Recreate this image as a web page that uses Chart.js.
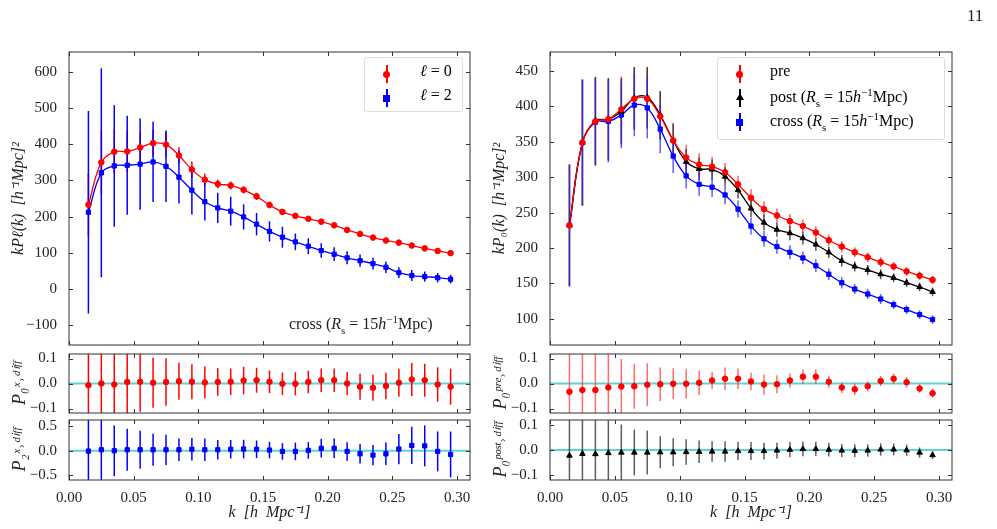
<!DOCTYPE html>
<html><head><meta charset="utf-8">
<script src="https://cdn.jsdelivr.net/npm/chart.js@4"></script>
<style>
body{margin:0;width:997px;height:529px;background:#fff;position:relative;overflow:hidden;font-family:"Liberation Serif",serif}
canvas{position:absolute;left:0;top:0}
.t{position:absolute;font-size:16px;color:#222;white-space:nowrap}
.leg{position:absolute;border:1px solid #ddd;border-radius:3px;background:rgba(255,255,255,0.8)}
.row{position:absolute;left:0;height:22px;font-size:16px;white-space:nowrap}
.m{position:absolute}
</style></head><body>
<div id="wrap"></div>
<script>
const K=[0.015,0.025,0.035,0.045,0.055,0.065,0.075,0.085,0.095,0.105,0.115,0.125,0.135,0.145,0.155,0.165,0.175,0.185,0.195,0.205,0.215,0.225,0.235,0.245,0.255,0.265,0.275,0.285,0.295];
// left main
const P0=[233,350,379,380,391,403,399,369,330,302,290,286,274,256,232,213,202,194,186,176,163,152,142,134,128,120,112,105,99];
const P0err=[87,88,61,56,42,37,36,23,22,17,12,11,10,10,9,8,8,7,7,7,6,6,6,6,5,5,5,5,5];
const P2=[212,321,340,342,345,351,339,309,273,241,224,215,199,179,159,143,130,118,106,96,86,78,70,60,45,37,34,31,27];
const P2err=[280,289,168,137,126,111,99,73,67,52,42,40,35,31,28,29,23,22,20,19,18,17,16,16,15,15,14,13,12];
// right main
const PRE=[232,349,379,382,396,411,411,386,352,328,318,315,307,290,271,255,246,238,231,222,211,202,194,187,180,174,167,161,155];
const POST=[232,349,380,382,393,412,413,388,352,322,312,311,301,282,256,236,226,221,214,205,194,182,174,169,163,158,151,145,138];
const CROSS=[232,349,378,379,388,402,398,368,330,302,290,286,275,255,231,213,202,194,186,175,163,151,142,135,128,120,113,106,99];
const RERR=[86,89,62,58,47,44,43,34,24,18,16,14,13,12,12,11,10,10,9,9,8,8,7,7,7,6,6,6,6];
// sub panels
const D0x=[-0.007,0,-0.004,0.006,0.007,0.003,0.006,0.009,0.007,0.004,0.006,0.007,0.012,0.013,0.007,-0.001,-0.001,0.006,0.013,0.013,0,-0.013,-0.017,-0.01,0.003,0.016,0.013,-0.004,-0.013];
const D0xerr=[0.2,0.2,0.18,0.15,0.12,0.1,0.095,0.074,0.07,0.064,0.055,0.053,0.055,0.05,0.045,0.045,0.046,0.045,0.047,0.047,0.046,0.052,0.052,0.053,0.056,0.066,0.066,0.069,0.072];
const D2x=[-0.007,0.02,0,0.02,0.02,0.02,0.02,0.02,0.03,0.02,0.02,0.03,0.035,0.03,0.014,-0.014,-0.014,0.007,0.05,0.05,-0.014,-0.063,-0.09,-0.063,0.035,0.11,0.1,-0.014,-0.077];
const D2xerr=[0.7,0.7,0.52,0.43,0.39,0.33,0.31,0.23,0.23,0.23,0.2,0.19,0.19,0.18,0.17,0.17,0.18,0.17,0.19,0.2,0.19,0.2,0.21,0.23,0.31,0.38,0.42,0.41,0.47];
const Dpre=[-0.033,-0.026,-0.026,-0.016,-0.012,-0.011,-0.005,-0.003,-0.001,-0.001,0.003,0.012,0.019,0.019,0.008,-0.004,-0.003,0.012,0.027,0.027,0.007,-0.016,-0.023,-0.011,0.01,0.019,0.005,-0.020,-0.039];
const Dpreerr=[0.2,0.2,0.2,0.2,0.11,0.09,0.086,0.067,0.062,0.06,0.049,0.034,0.045,0.041,0.035,0.04,0.036,0.028,0.029,0.029,0.024,0.022,0.023,0.02,0.02,0.021,0.021,0.017,0.018];
const Dpost=[-0.022,-0.015,-0.016,-0.012,-0.010,-0.010,-0.010,-0.009,-0.009,-0.008,-0.007,-0.006,-0.006,-0.004,-0.004,-0.004,-0.002,0.001,0.004,0.004,0.001,-0.002,-0.003,-0.002,0.002,0.002,-0.001,-0.01,-0.02];
const Dposterr=[0.2,0.2,0.2,0.2,0.11,0.09,0.086,0.063,0.055,0.05,0.044,0.04,0.04,0.035,0.035,0.033,0.031,0.03,0.029,0.028,0.027,0.026,0.025,0.024,0.024,0.023,0.022,0.02,0.015];
const XTICKS=[0,0.05,0.1,0.15,0.2,0.25,0.3];
const YL_TICKS=[-100,0,100,200,300,400,500,600];
const YR_TICKS=[100,150,200,250,300,350,400,450];
const YS_TICKS=[-0.1,0,0.1];
const YS2_TICKS=[-0.5,0,0.5];

const RED='#ff0000',BLUE='#0000ff',BLK='#000000';
const FONT={family:'"Liberation Serif", serif',size:15};
const fmt=(d)=>v=>(d===0?String(Math.round(v)):v.toFixed(d)).replace('-','\u2212');

const errPlugin={id:'err',beforeDatasetsDraw(c){
  const ctx=c.ctx,a=c.chartArea,ys=c.scales.y,xs=c.scales.x;
  ctx.save();ctx.beginPath();ctx.rect(a.left,a.top,a.right-a.left,a.bottom-a.top);ctx.clip();
  if(c.options.plugins.err.zero){ctx.strokeStyle='#5fd3d3';ctx.lineWidth=2;const y0=ys.getPixelForValue(0);ctx.beginPath();ctx.moveTo(a.left,y0);ctx.lineTo(a.right,y0);ctx.stroke();}
  c.data.datasets.forEach(ds=>{if(!ds.err)return;ctx.strokeStyle=ds.errColor||ds.borderColor;ctx.lineWidth=1.5;
    ds.data.forEach((p,i)=>{const x=xs.getPixelForValue(p.x);ctx.beginPath();ctx.moveTo(x,ys.getPixelForValue(p.y-ds.err[i]));ctx.lineTo(x,ys.getPixelForValue(p.y+ds.err[i]));ctx.stroke();});});
  ctx.restore();},
 afterDraw(c){const ctx=c.ctx,a=c.chartArea,ys=c.scales.y,xs=c.scales.x;ctx.save();ctx.strokeStyle='#333';ctx.lineWidth=1;
  ctx.strokeRect(a.left,a.top,a.right-a.left,a.bottom-a.top);
  XTICKS.forEach(v=>{const x=Math.round(xs.getPixelForValue(v))+0.5;ctx.beginPath();ctx.moveTo(x,a.bottom);ctx.lineTo(x,a.bottom-4);ctx.moveTo(x,a.top);ctx.lineTo(x,a.top+4);ctx.stroke();});
  ys.ticks.forEach(t=>{const y=Math.round(ys.getPixelForValue(t.value))+0.5;ctx.beginPath();ctx.moveTo(a.left,y);ctx.lineTo(a.left+4,y);ctx.moveTo(a.right,y);ctx.lineTo(a.right-4,y);ctx.stroke();});
  ctx.restore();}};

function pts(vals){return vals.map((v,i)=>({x:K[i],y:v}));}
function panel(box,opt){
  const cv=document.createElement('canvas');cv.width=997;cv.height=529;cv.style.width='997px';cv.style.height='529px';
  document.getElementById('wrap').appendChild(cv);
  const YW=64,XH=opt.xlabels?46:4;
  new Chart(cv,{type:'scatter',data:{datasets:opt.datasets},plugins:[errPlugin],
   options:{responsive:false,animation:false,devicePixelRatio:1,
    layout:{padding:{left:box[0]-YW,top:box[1],right:997-box[2],bottom:529-box[3]-XH}},
    plugins:{legend:{display:false},tooltip:{enabled:false},err:{zero:opt.zero}},
    scales:{
     x:{type:'linear',min:0,max:0.31,grid:{display:false},border:{display:false},
        afterBuildTicks:s=>{s.ticks=XTICKS.map(v=>({value:v}));},afterFit:s=>{s.height=XH;},
        ticks:{display:!!opt.xlabels,font:FONT,color:'#222',maxRotation:0,padding:1,callback:fmt(2)},
        title:{display:!!opt.xlabels,text:'k  [h  Mpc\u207B\u00B9]',font:{family:FONT.family,size:16,style:'italic'},color:'#222',padding:{top:4}}},
     y:{type:'linear',min:opt.ymin,max:opt.ymax,grid:{display:false},border:{display:false},
        afterBuildTicks:s=>{s.ticks=opt.yticks.map(v=>({value:v}));},afterFit:s=>{s.width=YW;},
        ticks:{font:FONT,color:'#222',padding:4,callback:fmt(opt.dec)},
        title:{display:true,text:opt.ytitle,font:{family:FONT.family,size:opt.tsize||16,style:'italic'},color:'#222',padding:{bottom:2}}}}}});
}
function ds(vals,err,color,style,size){return {data:pts(vals),err:err,borderColor:color,backgroundColor:color,pointStyle:style,pointRadius:size,showLine:false,order:1};}
function line(vals,color){return {data:pts(vals),borderColor:color,borderWidth:1.3,pointRadius:0,showLine:true,tension:0.4,order:2};}

panel([69,52,470,345],{ymin:-155,ymax:655,yticks:YL_TICKS,dec:0,ytitle:'kP\u2113(k)  [h\u207B\u00B9Mpc]\u00B2',
  datasets:[line(P0,RED),line(P2,BLUE),ds(P0,P0err,RED,'circle',2.8),ds(P2,P2err,BLUE,'rect',3)]});
panel([69,354,470,413],{ymin:-0.118,ymax:0.118,yticks:YS_TICKS,dec:1,zero:true,ytitle:'P\u2080\u02E3\u02D2\u1D48\u2071\u1DA0\u1DA0',tsize:18,
  datasets:[ds(D0x,D0xerr,RED,'circle',2.8)]});
panel([69,420,470,480],{xlabels:true,ymin:-0.6,ymax:0.63,yticks:YS2_TICKS,dec:1,zero:true,ytitle:'P\u2082\u02E3\u02D2\u1D48\u2071\u1DA0\u1DA0',tsize:18,
  datasets:[ds(D2x,D2xerr,BLUE,'rect',3)]});
panel([550,52,952,345],{ymin:63,ymax:477,yticks:YR_TICKS,dec:0,ytitle:'kP\u2080(k)  [h\u207B\u00B9Mpc]\u00B2',
  datasets:[line(PRE,RED),line(POST,BLK),line(CROSS,BLUE),
   Object.assign(ds(PRE,RERR,RED,'circle',2.8),{errColor:'rgba(255,60,60,0.8)'}),
   Object.assign(ds(POST,RERR,BLK,'triangle',3.2),{errColor:'rgba(40,40,40,0.8)'}),
   Object.assign(ds(CROSS,RERR,BLUE,'rect',3),{errColor:'rgba(40,40,255,0.75)'})]});
panel([550,354,952,413],{ymin:-0.118,ymax:0.118,yticks:YS_TICKS,dec:1,zero:true,ytitle:'P\u2080\u1D56\u02B3\u1D49\u02D2\u1D48\u2071\u1DA0\u1DA0',tsize:18,
  datasets:[Object.assign(ds(Dpre,Dpreerr,RED,'circle',2.8),{errColor:'rgba(255,60,60,0.75)'})]});
panel([550,420,952,480],{xlabels:true,ymin:-0.118,ymax:0.118,yticks:YS_TICKS,dec:1,zero:true,ytitle:'P\u2080\u1D56\u1D52\u02E2\u1D57\u02D2\u1D48\u2071\u1DA0\u1DA0',tsize:18,
  datasets:[Object.assign(ds(Dpost,Dposterr,BLK,'triangle',3.2),{errColor:'rgba(40,40,40,0.75)'})]});
</script>
<div class="t" style="left:967px;top:6px;font-size:17px">11</div>
<div class="t" style="left:289px;top:313px;font-size:16px">cross (<i>R</i><sub style="font-size:11px">s</sub> = 15<i>h</i><sup style="font-size:11px">−1</sup>Mpc)</div>
<div class="leg" style="left:364px;top:57px;width:97px;height:53px">
 <div class="m" style="left:21px;top:7px;width:1.5px;height:18px;background:#f00"></div><div class="m" style="left:18px;top:13px;width:7px;height:7px;border-radius:50%;background:#f00"></div>
 <div class="row" style="top:4px;left:55px"><i>ℓ</i> = 0</div>
 <div class="m" style="left:21px;top:31px;width:1.5px;height:18px;background:#00f"></div><div class="m" style="left:18px;top:37px;width:7px;height:7px;background:#00f"></div>
 <div class="row" style="top:28px;left:55px"><i>ℓ</i> = 2</div>
</div>
<div class="leg" style="left:717px;top:57px;width:226px;height:81px">
 <div class="m" style="left:21px;top:7px;width:1.5px;height:18px;background:#f00"></div><div class="m" style="left:18px;top:13px;width:7px;height:7px;border-radius:50%;background:#f00"></div>
 <div class="row" style="top:4px;left:52px">pre</div>
 <div class="m" style="left:21px;top:31px;width:1.5px;height:18px;background:#000"></div><div class="m" style="left:18px;top:35px;width:0;height:0;border-left:4px solid transparent;border-right:4px solid transparent;border-bottom:7px solid #000"></div>
 <div class="row" style="top:28px;left:52px">post (<i>R</i><sub style="font-size:11px">s</sub> = 15<i>h</i><sup style="font-size:11px">−1</sup>Mpc)</div>
 <div class="m" style="left:21px;top:55px;width:1.5px;height:18px;background:#00f"></div><div class="m" style="left:18px;top:61px;width:7px;height:7px;background:#00f"></div>
 <div class="row" style="top:52px;left:52px">cross (<i>R</i><sub style="font-size:11px">s</sub> = 15<i>h</i><sup style="font-size:11px">−1</sup>Mpc)</div>
</div>
</body></html>
